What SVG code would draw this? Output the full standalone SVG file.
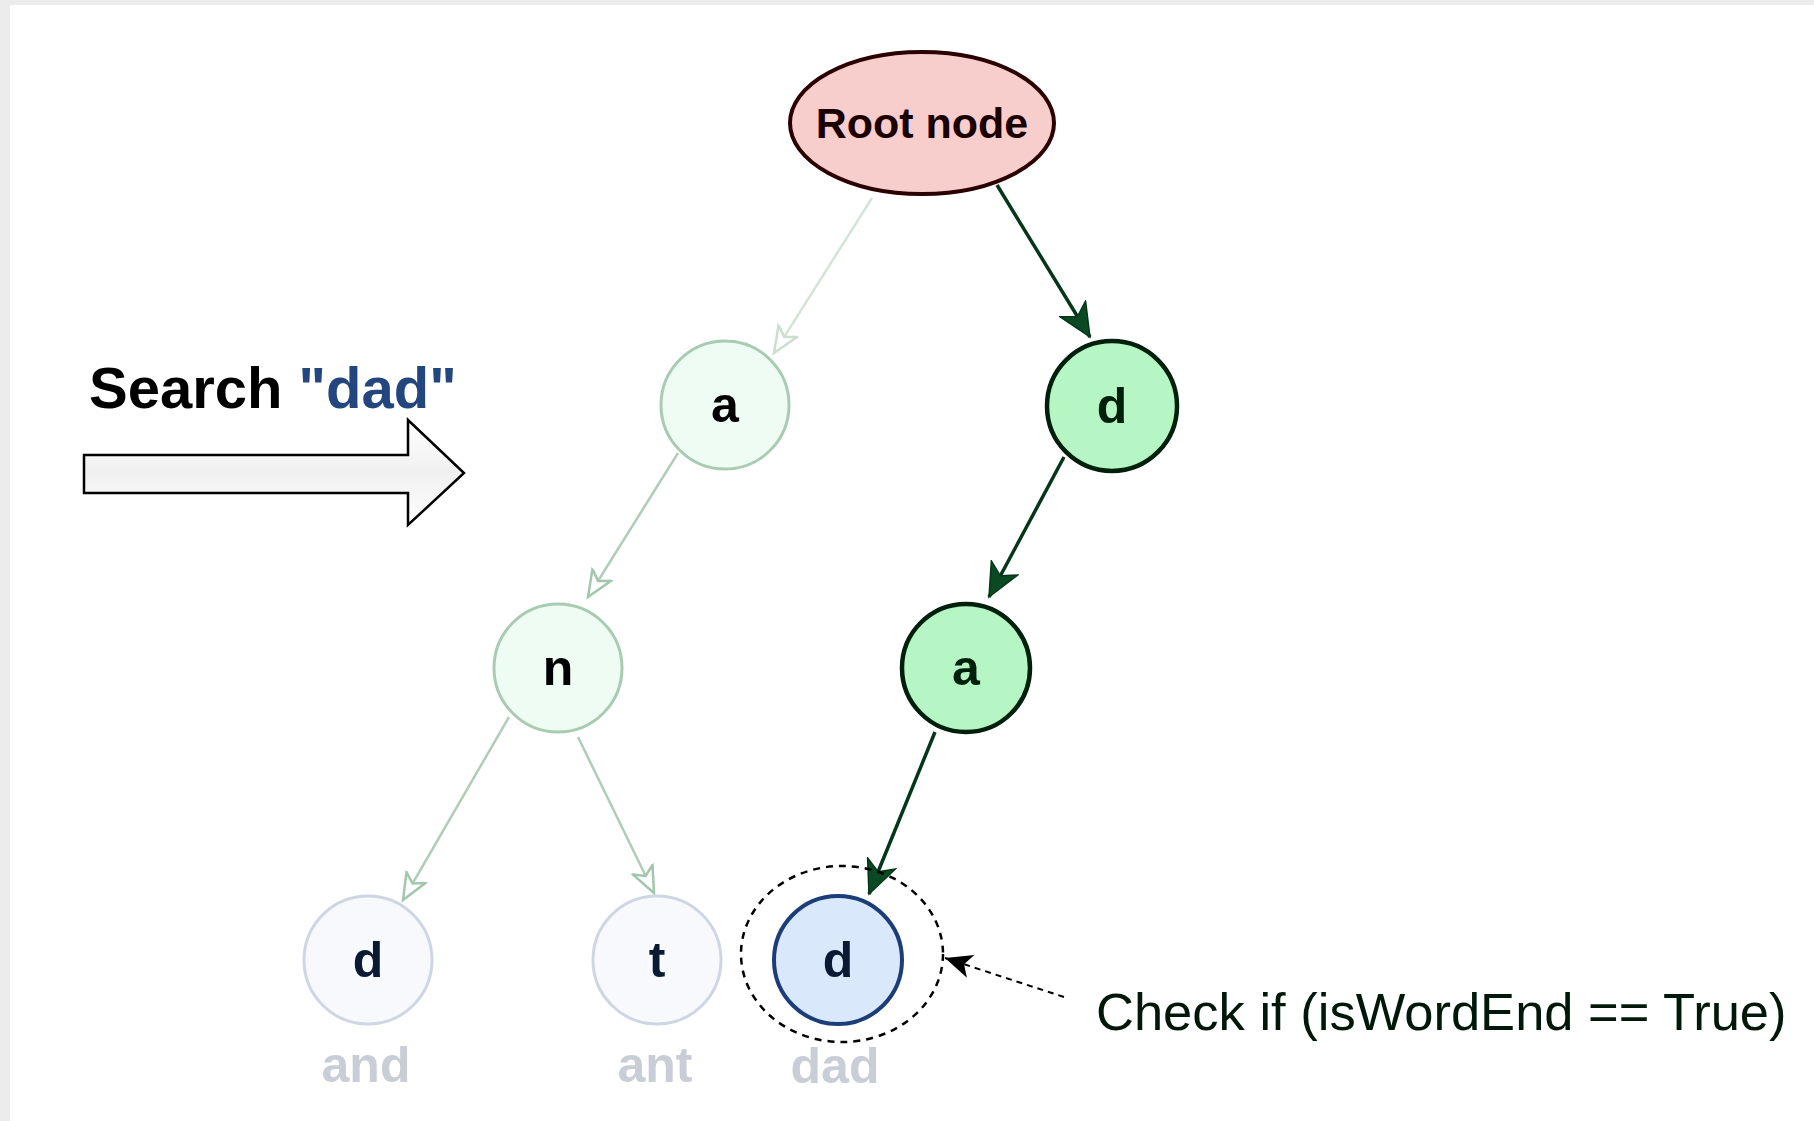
<svg xmlns="http://www.w3.org/2000/svg" width="1814" height="1121" viewBox="0 0 1814 1121">
  <defs>
    <style>
      .lbl { font-family: "Liberation Sans", Arial, sans-serif; font-weight: bold; text-anchor: middle; }
      .node-letter { font-size: 50px; }
      .word { font-size: 50px; fill: #c9cdd6; }
      .faded-node { fill: #effcf3; stroke: #a9cbb4; stroke-width: 3; }
      .pale-node { fill: #f7f9fd; stroke: #cfd6e3; stroke-width: 3; }
      .path-node { fill: #b5f6c4; stroke: #00200c; stroke-width: 4.5; }
      .faded-edge { stroke: #b0cdb9; stroke-width: 2.5; fill: none; marker-end: url(#openArrow); }
      .faded-edge-light { stroke: #d3e4d8; stroke-width: 2.5; fill: none; marker-end: url(#openArrowLight); }
      .path-edge { stroke: #06361a; stroke-width: 3.5; fill: none; marker-end: url(#solidArrow); }
    </style>
    <marker id="openArrow" markerUnits="userSpaceOnUse" markerWidth="30" markerHeight="26" refX="27" refY="13" orient="auto" viewBox="0 0 30 26">
      <path d="M27,13 L1,2 L8,13 L1,24 Z" fill="#ffffff" stroke="#a3c6ae" stroke-width="2.5" stroke-linejoin="miter"/>
    </marker>
    <marker id="openArrowLight" markerUnits="userSpaceOnUse" markerWidth="30" markerHeight="26" refX="27" refY="13" orient="auto" viewBox="0 0 30 26">
      <path d="M27,13 L1,2 L8,13 L1,24 Z" fill="#ffffff" stroke="#cadfd0" stroke-width="2.5" stroke-linejoin="miter"/>
    </marker>
    <marker id="solidArrow" markerUnits="userSpaceOnUse" markerWidth="36" markerHeight="32" refX="34" refY="16" orient="auto" viewBox="0 0 36 32">
      <path d="M34,16 L1,1 L10,16 L1,31 Z" fill="#0a4a22" stroke="#06361a" stroke-width="1.5"/>
    </marker>
    <marker id="dashArrow" markerUnits="userSpaceOnUse" markerWidth="30" markerHeight="26" refX="28" refY="13" orient="auto" viewBox="0 0 30 26">
      <path d="M28,13 L1,1 L8,13 L1,25 Z" fill="#000000"/>
    </marker>
    <linearGradient id="bigArrowFill" x1="0" y1="0" x2="0" y2="1">
      <stop offset="0" stop-color="#ffffff"/>
      <stop offset="0.5" stop-color="#f0f0f0"/>
      <stop offset="1" stop-color="#ffffff"/>
    </linearGradient>
  </defs>

  <!-- background with slight border shading -->
  <rect x="0" y="0" width="1814" height="1121" fill="#ececec"/>
  <rect x="10" y="5" width="1804" height="1116" fill="#ffffff"/>

  <!-- Search label and big arrow -->
  <g id="search-label">
    <text x="89" y="408" font-family="'Liberation Sans', Arial, sans-serif" font-weight="bold" font-size="58" fill="#000000">Search <tspan fill="#23467f">"dad"</tspan></text>
  </g>
  <g id="search-arrow">
    <path d="M84,455 L408,455 L408,420 L464,473 L408,525 L408,493 L84,493 Z" fill="url(#bigArrowFill)" stroke="#000000" stroke-width="2.5" stroke-linejoin="miter"/>
  </g>

  <!-- connectors -->
  <g id="connectors">
    <line class="faded-edge-light" x1="872" y1="198" x2="774" y2="353"/>
    <line class="path-edge" x1="997" y1="185" x2="1090" y2="337"/>
    <line class="faded-edge" x1="678" y1="453" x2="588" y2="597"/>
    <line class="path-edge" x1="1064" y1="457" x2="989" y2="597"/>
    <line class="faded-edge" x1="509" y1="717" x2="403" y2="900"/>
    <line class="faded-edge" x1="578" y1="737" x2="654" y2="893"/>
    <line class="path-edge" x1="935" y1="732" x2="869" y2="894"/>
    <line x1="1064" y1="997" x2="945" y2="958" stroke="#000000" stroke-width="2" stroke-dasharray="6,5" marker-end="url(#dashArrow)"/>
  </g>

  <!-- nodes -->
  <g id="root">
    <ellipse cx="922" cy="123" rx="132" ry="71" fill="#f8cecc" stroke="#2a0000" stroke-width="4"/>
    <text class="lbl" x="922" y="138" font-size="43" fill="#1a0000">Root node</text>
  </g>
  <g id="node-a-left">
    <circle class="faded-node" cx="725" cy="405" r="64"/>
    <text class="lbl node-letter" x="725" y="422" fill="#000000">a</text>
  </g>
  <g id="node-d-right">
    <circle class="path-node" cx="1112" cy="406" r="65"/>
    <text class="lbl node-letter" x="1112" y="423" fill="#00200c">d</text>
  </g>
  <g id="node-n">
    <circle class="faded-node" cx="558" cy="668" r="64"/>
    <text class="lbl node-letter" x="558" y="685" fill="#000000">n</text>
  </g>
  <g id="node-a-right">
    <circle class="path-node" cx="966" cy="668" r="64"/>
    <text class="lbl node-letter" x="966" y="685" fill="#00200c">a</text>
  </g>
  <g id="node-d-and">
    <circle class="pale-node" cx="368" cy="960" r="64"/>
    <text class="lbl node-letter" x="368" y="977" fill="#0a1a33">d</text>
    <text class="lbl word" x="366" y="1082">and</text>
  </g>
  <g id="node-t-ant">
    <circle class="pale-node" cx="657" cy="960" r="64"/>
    <text class="lbl node-letter" x="657" y="977" fill="#0a1a33">t</text>
    <text class="lbl word" x="655" y="1082">ant</text>
  </g>
  <g id="node-d-dad">
    <circle cx="838" cy="960" r="64" fill="#dae8fc" stroke="#1c3d78" stroke-width="4"/>
    <text class="lbl node-letter" x="838" y="977" fill="#0a1a33">d</text>
    <text class="lbl word" x="835" y="1083">dad</text>
  </g>
  <g id="check-highlight">
    <ellipse cx="842" cy="954" rx="101" ry="88" fill="none" stroke="#000000" stroke-width="2.5" stroke-dasharray="7,6"/>
  </g>
  <g id="check-label">
    <text x="1096" y="1030" font-family="'Liberation Sans', Arial, sans-serif" font-size="52.5" fill="#00180a">Check if (isWordEnd == True)</text>
  </g>
</svg>
